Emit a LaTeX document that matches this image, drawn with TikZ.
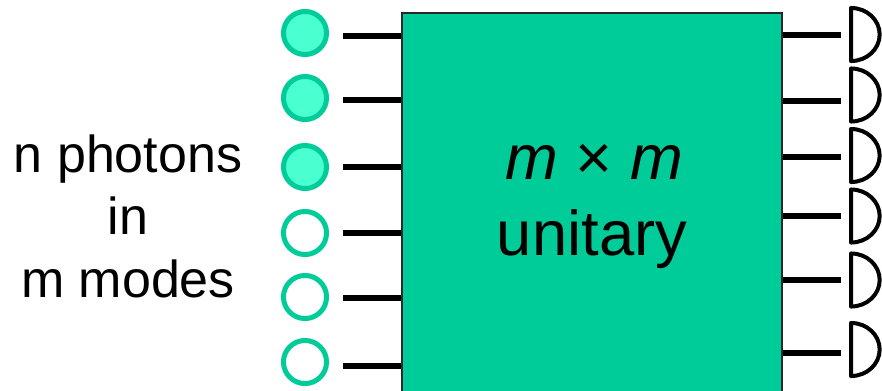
\documentclass[tikz,border=0pt]{standalone}
\usepackage{fontspec}
\setmainfont{Liberation Sans}
\definecolor{boxfill}{RGB}{0,204,153}
\definecolor{boxedge}{RGB}{40,40,40}
\definecolor{photonfill}{RGB}{74,255,208}
\tikzset{
  photon/.style={circle, draw=boxfill, line width=3.75pt, minimum size=32.3pt, inner sep=0pt},
  fullphoton/.style={photon, fill=photonfill},
  emptyphoton/.style={photon, fill=white},
  wire/.style={line width=4.2pt},
  detector/.style={line width=3pt, line join=round},
  unitary/.style={draw=boxedge, line width=1.2pt, fill=boxfill, minimum width=285pt, minimum height=306pt, inner sep=0pt, anchor=north west},
  lefttext/.style={font=\fontsize{39}{39}\selectfont, anchor=base, inner sep=0pt},
  boxtext/.style={font=\fontsize{47.5}{47.5}\selectfont, anchor=base, inner sep=0pt},
}
\begin{document}
\begin{tikzpicture}[x=0.75pt,y=-0.75pt]
\clip (0,0) rectangle (882,390);
\useasboundingbox (0,0) rectangle (882,390);

% unitary box
\node[unitary] (U) at (401,12) {};
\node[boxtext] (t1) at (594,179) {\textit{m} × \textit{m}};
\node[boxtext] (t2) at (592,255) {unitary};

% left text
\node[lefttext] (l1) at (128,172) {n photons};
\node[lefttext] (l2) at (128,234) {in};
\node[lefttext] (l3) at (128,297) {m modes};

% photons
\node[fullphoton] (c1) at (305,33) {};
\node[fullphoton] (c2) at (305,98) {};
\node[fullphoton] (c3) at (305,167) {};
\node[emptyphoton] (c4) at (305,233) {};
\node[emptyphoton] (c5) at (305,297) {};
\node[emptyphoton] (c6) at (305,362) {};

% input wires
\foreach \i/\y in {1/36,2/100,3/167,4/233,5/298,6/366}{
  \coordinate (in\i) at (343,\y);
  \draw[wire] (in\i) -- (in\i -| U.west);
}

% output wires and detectors
\foreach \i/\y/\dy in {1/35/34.5,2/101/95,3/157/155.5,4/216/216,5/280/280,6/353/349.5}{
  \coordinate (out\i) at (841,\y);
  \coordinate (d\i) at (851,\dy);
  \draw[wire] (out\i -| U.east) -- (out\i);
  \draw[detector] ([yshift=19.9pt]d\i) -- ([yshift=-19.9pt]d\i)
     arc[start angle=-90, end angle=90, x radius=21.5pt, y radius=19.9pt] -- cycle;
}
\end{tikzpicture}
\end{document}
